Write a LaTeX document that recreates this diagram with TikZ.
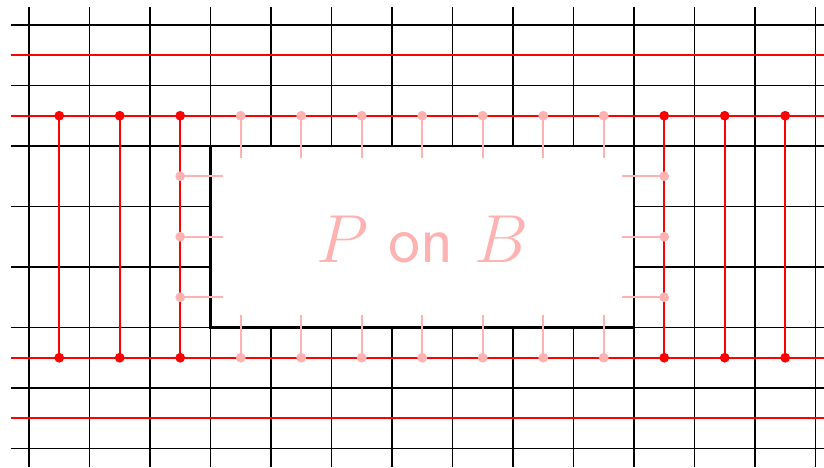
\RequirePackage{fix-cm}
\documentclass[tikz,border=0pt]{standalone}
\begin{document}
\begin{tikzpicture}[x=1cm,y=-1cm,
  gridline/.style={black, line width=0.55pt},
  redline/.style={red, line width=1pt},
  boxline/.style={draw=black, line width=1.2pt, fill=white, inner sep=0pt, outer sep=0pt},
  reddot/.style={circle, fill=red, inner sep=0pt, minimum size=4.6pt},
  pinkdot/.style={circle, fill=red!30, inner sep=0pt, minimum size=4.6pt},
  stub/.style={red!30, line width=1pt}]
\useasboundingbox (-0.479,-0.413) rectangle (13.141,7.306);
% grid
\foreach \i in {0,...,13} \draw[gridline] (\i,-0.3) -- (\i,7.306);
\foreach \j in {0,...,7} \draw[gridline] (-0.3,\j) -- (13.141,\j);
% red horizontal lines
\foreach \j in {0.5,1.5,5.5,6.5} \draw[redline] (-0.3,\j) -- (13.141,\j);
% box
\node[boxline, minimum width=7cm, minimum height=3cm] (box) at (6.5,3.5) {};
\node[text=red!30, font=\fontsize{32}{38}\selectfont] (lbl) at (6.5,3.55) {$P$ \textsf{on} $B$};
% red verticals with dots
\foreach \x [count=\k] in {0.5,1.5,2.5,10.5,11.5,12.5} {
  \coordinate (rt\k) at (\x,1.5);
  \coordinate (rb\k) at (\x,5.5);
  \draw[redline] (rt\k) -- (rb\k);
  \node[reddot] at (rt\k) {};
  \node[reddot] at (rb\k) {};
}
% pink stubs top and bottom
\foreach \x [count=\k] in {3.5,4.5,...,9.5} {
  \node[pinkdot] (pt\k) at (\x,1.5) {};
  \coordinate (pte\k) at (\x,2.2);
  \draw[stub] (pt\k.center) -- (pte\k);
  \node[pinkdot] (pb\k) at (\x,5.5) {};
  \coordinate (pbe\k) at (\x,4.8);
  \draw[stub] (pb\k.center) -- (pbe\k);
}
% pink stubs left and right
\foreach \y [count=\k] in {2.5,3.5,4.5} {
  \node[pinkdot] (pl\k) at (2.5,\y) {};
  \coordinate (ple\k) at (3.2,\y);
  \draw[stub] (pl\k.center) -- (ple\k);
  \node[pinkdot] (pr\k) at (10.5,\y) {};
  \coordinate (pre\k) at (9.8,\y);
  \draw[stub] (pr\k.center) -- (pre\k);
}
\end{tikzpicture}
\end{document}
